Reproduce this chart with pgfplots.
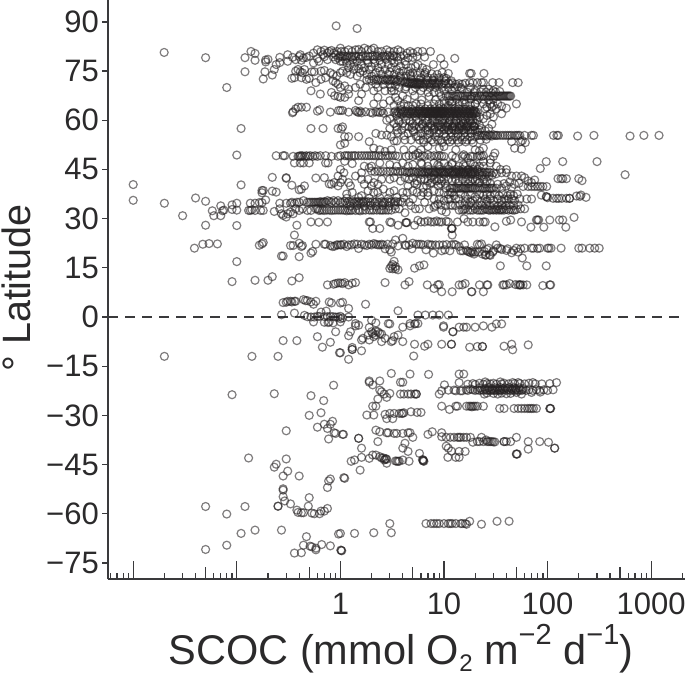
\documentclass[border=0pt]{standalone}
\usepackage{pgfplots}
\pgfplotsset{compat=1.18}
\usepackage{fontspec}
\setmainfont{Liberation Sans}
\definecolor{axisgray}{HTML}{3A3A3C}
\definecolor{txt}{HTML}{2B2A2B}
\definecolor{ring}{HTML}{231F20}
\newcommand{\sups}[1]{\raisebox{20pt}{\fontsize{29}{29}\selectfont #1}}
\newcommand{\subs}[1]{\raisebox{-7pt}{\fontsize{24}{24}\selectfont #1}}
\begin{document}
\begin{tikzpicture}[x=1pt,y=1pt]
\useasboundingbox (0,0) rectangle (685,676);
\begin{axis}[
  at={(108.3pt,96.7pt)}, anchor=south west,
  scale only axis, width=576.7pt, height=579.3pt,
  xmode=log, log basis x=10,
  xmin=0.00575, xmax=2120, ymin=-80, ymax=96.7,
  axis lines*=left, axis line style={-, line width=2.2pt, color=axisgray},
  tick style={color=axisgray, line width=1.3pt},
  tick align=inside,
  major tick length=18pt, minor tick length=6pt,
  xtick={0.01,0.1,1,10,100,1000}, xticklabels={,,1,10,100,1000},
  minor xtick={0.006,0.007,0.008,0.009,0.02,0.03,0.04,0.06,0.07,0.08,0.09,0.2,0.3,0.4,0.6,0.7,0.8,0.9,2,3,4,6,7,8,9,20,30,40,60,70,80,90,200,300,400,600,700,800,900,2000},
  extra x ticks={0.05,0.5,5,50,500},
  extra x tick style={major tick length=12.5pt},
  extra x tick labels={},
  ytick=\empty,
  extra y ticks={-75,-60,-45,-30,-15,0,15,30,45,60,75,90},
  extra y tick labels={−75,−60,−45,−30,−15,0,15,30,45,60,75,90},
  extra y tick style={major tick length=6pt, tick align=outside},
  tick label style={font=\fontsize{31}{33}\selectfont, text=txt},
  xticklabel style={yshift=-10pt},
  yticklabel style={xshift=0pt},
  clip=true,
]
\addplot[only marks, mark=o, mark size=4pt, draw=ring, draw opacity=0.58,
  mark options={line width=1.2pt, draw=ring, draw opacity=0.58, fill opacity=0}] coordinates {
% clipped at the left edge
(0.0057,74.8)(0.0057,54.5)(0.0057,44.2)(0.0057,43.4)(0.0057,40.5)(0.0057,21)(0.0057,21)(0.0057,8.6)(0.0057,-36.7)
% far left, north
(0.0199,80.7)(0.05,79.1)(0.12,79.1)(0.137,81)(0.15,80.4)(0.15,78.3)(0.12,74.8)(0.08,70)(0.18,72.6)(0.19,78.4)(0.19,77.8)(0.2,78.6)(0.187,74.8)(0.23,75.5)(0.22,73.8)(0.24,77)(0.26,77.6)(0.26,79.2)(0.31,80)(0.31,78)
(0.11,57.5)(0.1,49.4)
(0.01,40.4)(0.01,35.6)(0.02,34.7)(0.03,30.9)(0.04,36.3)(0.05,35.3)(0.058,32.4)(0.06,30.9)(0.07,33.9)(0.07,30.9)(0.075,32.6)(0.073,32.4)(0.05,28)(0.09,34.2)(0.09,32.8)(0.1,34.7)(0.1,32.6)(0.1,27.9)(0.11,40.3)
(0.13,32.5)(0.135,32.5)(0.14,32.7)(0.135,34.7)(0.15,34.7)(0.165,34.9)(0.175,34.9)(0.15,32.5)(0.17,32.5)(0.18,32.5)(0.19,35.7)(0.175,38.6)(0.18,38.6)(0.175,37.9)(0.22,38.4)(0.24,38.1)(0.22,42.6)
(0.039,21)(0.047,22.2)(0.054,22.4)(0.065,22.3)(0.165,21.9)(0.175,22.3)(0.18,22.7)(0.27,18.6)(0.28,18.6)(0.1,16.9)(0.09,10.8)(0.15,11.2)(0.2,11.2)(0.22,12.3)(0.34,11)(0.4,12)
% 60-75 north, left of 1
(0.346,79.2)(0.37,78.5)(0.4,79.5)(0.42,78.3)(0.41,80)(0.44,79)(0.47,79.2)(0.5,79.6)(0.55,80.5)(0.6,81.5)(0.65,81)(0.7,81.4)(0.68,80)(0.75,80.5)(0.78,81)(0.82,81.3)(0.86,80.5)(0.9,80)(0.93,81)(0.98,79.5)(1,82)(0.95,79)(0.85,79.3)(0.7,79.4)(0.6,78.8)(0.55,77.5)(0.62,78)(0.75,78.5)(0.9,78.5)(1,78)
(0.34,72.8)(0.36,73)(0.42,73)(0.47,72.5)(0.5,72.8)(0.37,75)(0.39,75.5)(0.41,74.8)(0.43,74.5)(0.45,75.5)(0.53,74.8)(0.56,74.8)(0.65,75)(0.7,75.2)(0.8,74.5)(0.85,74)(0.92,73.5)(1,74.5)(0.58,71.5)(0.65,72.5)(0.72,73)(0.85,72)(0.9,71.5)(0.95,71)(0.52,69)(0.64,68)(0.82,68.5)(0.88,67.5)(0.95,67.3)(1,67)
(0.345,62.3)(0.35,62.6)(0.37,63.5)(0.39,64)(0.42,64)(0.47,64)(0.6,62.8)(0.63,63.2)(0.8,62.5)(0.96,63)(1,63)(0.52,57.5)(0.68,57.5)(0.95,57.5)(1.02,57.4)(1,52.5)(1.1,53)
% 49 band, left of 1
(0.24,49.2)(0.28,49.2)(0.29,49.2)(0.35,49)(0.39,49)(0.4,49)(0.41,49.2)(0.42,49)(0.43,49.2)(0.45,49)(0.47,49.2)(0.49,49)(0.51,49.2)(0.54,49)(0.57,49.2)(0.6,49)(0.64,49.2)(0.72,49.2)(0.82,49)(0.95,49)(1,49.2)(0.36,47)(0.41,47)(0.44,47)(0.5,47)(0.72,47)(0.76,47)(1,45)
(0.3,42.5)(0.3,42.3)(0.34,40.2)(0.4,38.8)(0.42,39)(0.45,40)(0.58,42.4)(0.7,42.5)(0.78,40.6)(0.82,40.5)(0.87,41)(0.95,40)(0.95,43)(1,41)
% 35/33 bands, left of 1
(0.26,34.7)(0.3,34.7)(0.33,34.7)(0.34,35)(0.36,34.7)(0.38,35)(0.4,35)(0.44,35.5)(0.48,35)(0.5,35)(0.52,35)(0.54,35)(0.56,35)(0.58,35)(0.6,35)(0.62,35)(0.64,35.2)(0.66,35)(0.68,35)(0.7,35.2)(0.72,35)(0.75,35.5)(0.78,35.2)(0.82,35)(0.86,35.5)(0.9,35)(0.95,35.5)(1,35)
(0.23,32.2)(0.26,33)(0.27,31.5)(0.28,31)(0.3,30.5)(0.31,31.5)(0.33,32)(0.35,31.5)(0.37,33)(0.4,32.5)(0.43,33)(0.48,32.5)(0.52,32.5)(0.58,33)(0.6,33)(0.62,32.5)(0.64,32.6)(0.67,32.6)(0.7,32.5)(0.74,32.6)(0.78,32.6)(0.82,32.5)(0.86,32.6)(0.9,32.6)(0.95,32.6)(1,32.6)
(0.38,28)(0.52,29)(0.62,28.9)(0.75,29)(0.36,25)(0.4,22.5)
% 22 band, left of 1
(0.33,21.8)(0.35,21.8)(0.42,21.5)(0.43,21.8)(0.58,22.2)(0.7,22.2)(0.72,22.2)(0.8,21.8)(0.84,21.5)(0.88,21.6)(0.92,22)(0.95,22)(1,22)(0.52,19.5)(0.54,20)(0.4,18.4)
(0.75,9.8)(0.86,10)(0.9,10.2)(0.95,10.4)(1,10.4)
% equator patch
(0.28,4.4)(0.3,4.5)(0.31,4.8)(0.33,4.8)(0.34,4.6)(0.36,4.8)(0.37,4.8)(0.44,5.3)(0.46,5)(0.48,5)(0.52,4.6)(0.55,3.9)(0.58,4.8)(0.78,4.6)(0.82,4.3)(1,4.3)(0.27,0.7)(0.36,1.2)(0.45,0.5)(0.48,0.1)(0.52,0)(0.56,0)(0.6,0.2)(0.63,0.2)(0.65,1.5)(0.7,0.1)(0.73,1.8)(0.75,0.1)(0.8,0.2)(0.85,0.1)(0.9,0)(0.95,0)(1,0.2)(0.55,-1.5)(0.7,-1.6)(0.76,-1.7)(0.78,-1.5)(0.85,-1.8)(1,-1.5)
% equator to -15
(0.02,-12)(0.14,-12)(0.25,-12)(0.28,-7.2)(0.38,-7.2)(0.6,-6)(0.67,-9.2)(0.8,-7.7)(0.98,-10.9)(0.9,-4.5)
(1.4,-2.7)(1.25,-4.5)(1.5,-2.5)(1.9,-3.2)(2,-4.5)(3,-2.1)(4.7,-2.7)(5.2,-2.1)(4,-3.1)(9.9,-2.7)(9.9,-3.1)(12.2,-4.5)(12.2,-4.5)(14,-3.1)(15.5,-3.1)(16.5,-3.1)(20,-3.1)(24,-2.7)(29,-3.1)(32,-2.1)(36,-2.1)
(1.2,-5.7)(1.3,-9.3)(1.3,-9.9)(1.6,-7)(1.65,-6.5)(1.85,-5.5)(2.05,-5)(2.3,-4.5)(2.2,-5.5)(2.5,-7.5)(2.5,-5.2)(3.1,-7.5)(3.2,-7.2)(3.6,-5.5)(3.3,-6)(4,-7.5)(5.2,-8.3)(6.5,-8.9)(7,-8.3)(9.5,-8.3)(11.8,-8.3)(11.8,-8.3)(17.7,-9.2)(21,-9)(23.5,-9)(23.5,-9)(38,-8.9)(45,-8.3)(46,-10)(65,-8.5)
(1.6,-10.3)(1.3,-9.9)(1,-10.9)(1.2,-12.9)(5.1,-11.9)(1.9,-7)(2.1,-6)(2.2,-4.3)(2.4,-5)(2.7,-6.5)
% south, -18 to -40, left of 1.1
(0.09,-23.7)(0.23,-23.4)(0.52,-24)(0.69,-25.5)(0.86,-20.8)(0.65,-29.2)(0.5,-30)(0.6,-33.6)(0.7,-32.7)(0.84,-31.8)(0.8,-32.7)(0.75,-34)(0.87,-35.3)(0.9,-35.5)(0.77,-37.2)(1.05,-35.8)(0.3,-34.7)
(0.13,-43)(0.3,-43.3)(0.24,-44.9)(0.23,-45.8)(0.31,-47)(0.28,-48.5)(0.4,-48.5)(0.8,-49.4)(0.77,-50)(0.75,-52)(1.08,-49)(1.1,-49.2)
(0.28,-52.4)(0.28,-52.8)(0.28,-54.8)(0.29,-56.1)(0.25,-57.7)(0.25,-57.7)(0.33,-57)(0.5,-55.1)(0.49,-57.7)(0.38,-58.9)(0.39,-59.6)(0.42,-59.7)(0.44,-59.7)(0.53,-59.8)(0.56,-60)(0.63,-60)(0.65,-59.2)(0.7,-59.2)(0.75,-58.4)
(0.05,-57.8)(0.08,-60.1)(0.12,-57.8)(0.11,-66)(0.15,-65)(0.27,-65)(0.05,-70.9)(0.08,-69.6)(0.47,-67)(0.44,-69.6)(0.51,-69.9)(0.53,-70.1)(0.58,-71)(0.58,-70.5)(0.66,-69.4)(0.8,-69.8)(0.36,-72)(0.42,-71.9)(0.96,-66.2)(1.01,-71.1)(1.03,-71.3)(1.02,-71.2)
% -63 row and bottom
(6.7,-63)(7.5,-63)(8,-63)(8.5,-63)(9,-63)(10,-63)(11,-63)(11.5,-63)(12,-63)(13,-63)(14.5,-63)(15,-63)(16,-63)(16.5,-63.2)(17.7,-62.3)(23,-63.2)(32.5,-62.3)(42.5,-62.3)(3,-63)(3.1,-65.8)(2.1,-65.8)(1.37,-66)(1,-66)
% -17 to -30, 1.8 to 8
(3.1,-17.2)(4.7,-17.4)(7.1,-17.5)(14,-17.4)(15.5,-17.4)(1.9,-19.5)(1.9,-19.9)(2.05,-20.7)(2.4,-19.5)(3.8,-19.9)(4,-19.9)(2.4,-22.3)(2.5,-22.8)(3,-23.3)(2.8,-24.5)(2.3,-25)(2.65,-23.5)
(3.8,-23.5)(4.1,-23.5)(4.5,-23.5)(4.8,-23.5)(5.2,-23.5)(5.4,-23.5)(5.4,-23.5)
(2.2,-27.2)(2.05,-27.2)(1.8,-29.9)(2.1,-29.9)(2.7,-29.7)(2.8,-31)(3.2,-31)(3,-29.4)(3.3,-29.4)(3.7,-29.4)(3.9,-29.4)(4,-29.4)(4.1,-29.2)(4.8,-28.9)(5.5,-29.1)(6,-29.1)
% -20/-23 long band
(9,-23.5)(10.1,-20.7)(9.5,-22.5)(11,-22.3)(13,-22.5)(14,-20)(12.5,-22.3)(14.4,-22.5)(15,-22.5)(16.4,-22.2)(17,-22.4)(18,-22)(19,-22.2)(20,-22.4)(21,-22.2)(22,-22.4)(23,-22.2)(24,-22.4)(25,-22.2)(26,-22.4)(27,-22.2)(28,-22.5)(29,-22.2)(30,-22.4)(31,-22.2)(32,-22.5)(33,-22.2)(34,-22.4)(35,-22.2)(36,-22.4)(38,-22.2)(40,-22.4)(42,-22.2)(44,-22.5)(46,-22.2)(48,-22.4)(50,-22.2)(52,-22.5)(54,-22.2)(56,-22.4)(58,-22.2)(62,-22.4)(66,-22.2)(72,-22.4)(78,-22.2)(84,-22.4)(92,-22.2)(100,-22.4)(113,-22.2)
(17,-20.5)(19,-20.3)(20,-20.6)(22,-20.2)(24,-20.5)(25,-19.8)(26,-20.3)(28,-20.4)(30,-20.2)(32,-20.5)(35,-19.8)(36,-20.4)(38,-20.2)(42,-20.4)(46,-20)(48,-20.3)(52,-20)(54,-20.3)(60,-20.4)(66,-20.2)(72,-20)(76,-20.4)(88,-20.4)(105,-20.3)(122,-20)
(24.5,-23.5)(26,-23.2)(30,-23.3)(33,-23.5)(36,-23.2)(40,-23.4)(56,-23.5)(44,-23.3)(50,-23)(70,-23)(85,-22.9)
(22,-21.6)(25,-21.8)(27,-21.5)(29,-21.9)(31,-21.6)(33,-21.8)(35,-21.5)(37,-21.9)(39,-21.6)(41,-21.8)(43,-21.5)(45,-21.9)(47,-21.6)(49,-21.8)(53,-21.6)(58,-21.8)
% -28 row
(9.5,-27.2)(11.3,-28.2)(13,-27.2)(13.5,-27.2)(16.5,-27.2)(17.5,-27.2)(18.2,-27.2)(18.6,-27.4)(19.2,-27.2)(20,-27.2)(21,-27.2)(24,-27.2)(34.5,-27.9)(38,-27.9)(47.5,-27.9)(52,-27.9)(56,-27.9)(60,-27.9)(64,-27.9)(67,-27.9)(70,-27.9)(73,-27.9)(78,-27.9)(105,-27.9)(106,-27.9)(107,-27.9)
% -35 to -45
(1.07,-35.8)(1.5,-37)(1.5,-37)(2.2,-34.5)(2.4,-35)(2.8,-35.3)(2.9,-35.3)(3.3,-35.5)(3.5,-35.5)(4.5,-35.3)(4.7,-35.3)(4,-35.5)(5,-36.7)(2.3,-38)(7,-35.8)(7.7,-35)(9.5,-35.3)(9.5,-36.5)
(10.5,-36.7)(11.5,-36.7)(12.5,-36.7)(13.5,-36.7)(14,-36.7)(14.5,-36.7)(15.5,-36.7)(16.5,-36.7)(18,-36.7)(23,-36.7)(25.5,-37.5)(29,-38)(19,-38.2)(31,-38.1)(38,-38)(38,-38)(40,-38)(44,-38)(50,-36.7)(65,-38)(84,-38)(102,-38.2)(117,-40)(117,-40)(65,-40.3)(50,-41.8)(50,-41.8)(51,-41.8)(21,-38)(22,-38)(24,-38)(26,-38)(27,-38)(28,-38)(30,-38.1)
(10.5,-39.4)(11,-40)(11.8,-40.9)(14,-41)(16,-41)(10.9,-42.8)(13,-42.8)(14,-42.8)
(1.6,-40)(1.27,-44)(1.37,-43.6)(1.55,-46.7)(1.6,-42.8)(1.9,-43.1)(2.05,-42.1)(2.2,-42.1)(2.4,-42.6)(2.5,-43)(2.6,-43)(2.7,-43.4)(2.8,-43.4)(2.65,-43.6)(2.75,-43.2)(2.8,-44.6)(3.5,-44)(3.7,-44)(4,-43.6)(4.6,-44)(4.5,-41)(4,-40)(4.2,-38.5)(5.8,-41.6)(6.2,-43.5)(6.3,-43.6)(6.3,-43.9)(6.4,-44)(6.3,-43.8)(3.4,-43.9)(3.6,-44)
% equator to -5, right side
(5.6,0.6)(6.6,0.6)(7.8,0.6)(9,0.6)(11,0.6)(3.6,1.9)(1.75,3.9)(1.2,2.6)(1.05,4.5)(1.4,-2)(2,-1)(2.2,-1.8)(2.9,-2)(4.7,-2)(5.3,-2)(5.6,-2)(1,-0.5)(1.2,0)(1.05,-0.3)
% 10 row
(1.05,10.2)(1.1,10.5)(1.2,9.8)(1.3,10.3)(1.4,10.5)(2.7,10.5)(4.2,9.8)(4.6,10.8)(6.9,9.8)(8,8.7)(8.7,9.8)(9,9.9)(9.5,7.7)(12,7.7)(14,9.8)(15,9.8)(16,10.2)(18.4,7.7)(18.6,7.7)(22,9.8)(24,7.7)(26,9.8)(26.5,9.8)(37,9.8)(38,9.8)(40,9.8)(43,10.2)(49,9.9)(52,9.8)(54,9.8)(54,9.8)(55,9.8)(58,9.8)(63,9.8)(90,9.6)(105,9.8)(107,9.8)
(3.1,15.5)(3.2,16)(3.4,15.4)(3.3,17)(3.2,14.7)(3,14.8)(3.4,14.7)(3.6,14.4)(5.2,14.9)(5.8,15.6)(6.4,15.9)(35,15.6)(63,15.6)(97,15.6)
% 22 row
(1.02,22)(1.08,22.2)(1.15,21.5)(1.2,22)(1.28,22)(1.36,22.3)(1.45,22.2)(1.5,20.9)(1.6,22.2)(1.7,22)(1.8,21.8)(1.9,22.2)(2,22)(2.1,22.4)(2.2,22.2)(2.3,22)(2.4,22)(2.5,22.2)(2.6,22)(2.7,20.8)(2.85,22.2)(3,20.5)(3.2,22.3)(3.4,23.5)(3.6,21.7)(3.1,19.8)(4,24)(4.2,22)(4.3,21.8)(4.6,22)(4.9,20.8)(5,22.5)(5.4,22.2)(5.7,22.2)(6,22.2)(6.3,22)(6.7,20.5)(7,22.2)(7.4,22)(7.7,22)(7.9,19.5)(8.3,22)(9,22)(9.5,20.2)(9.8,22)(10.2,20.5)(10.6,22.1)(11.4,20.2)(11.8,22)(12.5,22.2)(13,22)(12,25)(14,21.5)(14.5,20.2)(15.2,20.2)(15.8,22)(16.5,20.3)(17,20)(17.7,19.8)(18.2,19.6)(18.5,20.2)(19,19.8)(19.5,19.2)(20,19.8)(21,22.2)(21.5,19.8)(22,22)(23,22.3)(23.5,19.2)(24.5,20)(25,18.9)(25.5,18.9)(26,20.6)(27,21)(27.5,19)(28,18.8)(29.5,19.8)(30,20.2)(32,22)(33,21)(35,20.9)(36,20.6)(40,20.3)(41,20.8)(45,19.6)(47,20.3)(50,21)(52,19.8)(55,20.8)(57,18)(60,21)(70,21)(73,21)(80,20.9)(84,21)(100,21)(103,21)(108,21)(135,21)(200,21)(215,21)(255,21)(285,21)(315,21)
% 29 row
(1.9,29)(1.95,29)(2.05,27)(2.4,27)(3,29)(3.1,28.8)(3.6,28)(4.3,28.8)(4.3,28.8)(4.4,28.8)(5.2,28)(5.6,29.5)(6,29)(6.5,29)(7,29.3)(7.5,29)(8,29)(8.5,29.3)(9,29)(9.5,29)(10.5,29.2)(11,29)(11.8,27)(11.9,27)(12,27)(13.5,29)(15.6,30)(17,29)(19,29)(22,29)(24,29)(25,29)(31,27.5)(40,29.2)(44,29.6)(56,29)(69,27.4)(78,29.6)(80,29.6)(82,29.6)(92,27.4)(105,29.6)(130,29.6)(140,29.6)(150,27.4)(180,30.4)
% 33 / 35 rows right of 1
(1.05,35)(1.1,35.3)(1.15,34.8)(1.2,35.2)(1.25,35)(1.3,35.3)(1.35,34.8)(1.4,35.2)(1.45,35)(1.5,35.3)(1.55,34.8)(1.6,35.2)(1.65,35)(1.7,35.3)(1.78,35)(1.85,35.2)(1.95,35)(2.05,35.2)(2.15,35)(2.25,35.2)(2.35,35)(2.5,35.2)(2.6,35)(2.7,35)(2.85,35.2)(3,35)(3.1,35.2)(3.3,35)(3.4,35.3)(3.6,35)(3.8,35.2)(4,35)
(1.05,32.6)(1.1,32.6)(1.15,32.4)(1.2,32.6)(1.25,32.5)(1.3,32.6)(1.4,32.5)(1.5,32.6)(1.55,32.4)(1.65,32.6)(1.75,32.6)(1.9,32.6)(2,32.6)(2.1,32.6)(2.25,32.6)(2.4,32.6)(2.5,32.6)(2.6,32.6)(2.75,32.6)(2.9,32.6)(3.1,32.6)
(3.4,33)(3.7,33)(4.2,31.8)(4.8,34)(5.3,33)(5.8,33)(6.5,35)(7.2,33)(8,33.5)(8.7,34.5)(9.5,32.5)(10.5,32)(10,35.5)(11.5,36)(12,34)(13,36)(14,32.6)(15,32.6)(15.5,32.8)(16,33)(17,32.6)(18,35)(18,32.6)(19,32.6)(20,33)(21,32.6)(22,32.6)(23,32.6)(24,32.6)(25,33)(26,32.8)(27,32.6)(28,32.6)(29,32.8)(30,32.6)(31,32.8)(32,32.6)(33,33)(34,32.6)(35,32.8)(36,32.6)(37,33)(38,32.6)(40,32.8)(42,32.6)(44,32.8)(46,32.6)(48,32.6)(50,32.8)(55,33)(60,33)
(5,36)(6,37)(7,37)(8,36)(9,36)(11,36)(14,36)(16,35.2)(17,36)(19,35.5)(21,36)(23,35.2)(25,36)(26,35.5)(28,36)(30,35.5)(33,36)(36,35.5)(38,36)(40,35.5)(42,36)(45,36)(48,35.5)(54,36)(63,36)(70,36)
(2.1,38)(2.3,38)(2.6,39)(3,38)(3.3,38.5)(4,38)(4.4,38)(5,38.5)(5.5,38)(6.3,38)(7,38)(8,38.5)(9,38)(10,38)(11.5,38)(12,38)
(8.2,34)(9.3,34.2)(10.4,33.9)(11.6,34.2)(12.9,34)(14.3,34.3)(15.8,34)(17.4,34.2)(19.2,33.9)(21.1,34.2)(23.2,34)(25.4,34.3)(27.8,34)(30.4,34.2)(33.2,33.9)(36.2,34.2)(39.4,34)(43,34.2)(47,34)(52,34.2)
(1.25,33.8)(1.45,34)(1.7,33.8)(1.95,34)(2.2,33.8)(2.55,34)(2.95,33.8)(3.35,34)(1.15,36.2)(1.5,36.5)(1.9,36.2)(2.4,36.4)(2.9,36.2)(3.5,36.5)(4.1,36.3)(4.6,35)
% 39 row
(6.3,39.5)(8.8,40)(10.5,39.3)(11.5,39.3)(12,39.3)(12.5,39.3)(13,39.3)(13.5,39.3)(14,39.3)(14.5,39.3)(15,39.3)(15.5,39.3)(16,39.3)(16.5,39.3)(17,39.3)(17.5,39.3)(18,39.3)(18.5,39.3)(19,39.3)(20,39.3)(21,39.3)(22,39.3)(23,39.3)(24,39.3)(25,39.3)(26,39.3)(27,39.3)(28,39.3)(29,39.3)(30,39.3)(32,39.3)(36,39.3)(40,40)(45,39.5)(65,39.8)(70,39.8)(75,39.8)(80,39.8)(85,39.8)(90,39.8)(98,39.8)
(87,37.2)(97,36.7)(98,36.7)(100,36.4)(113,36.2)(122,36.2)(128,36.2)(137,36.2)(152,36.2)(163,36.2)(163,36.2)(190,36.9)(210,37.2)(235,36.5)(205,36.8)
(97,47.4)(85,45.3)(140,47.4)(300,47.4)(560,43.4)(126,42.2)(135,42.2)(140,42.2)(152,42.2)(200,42.2)(215,41.6)(50,43)(56,43)(60,42.5)(65,41.5)(70,41)(75,41.8)(45,43)(40,44)(36,44)
% 44 row
(2,44.5)(2.15,44.3)(2.3,44.5)(2.45,44.3)(2.6,44.5)(2.8,44.3)(3,44.5)(3.2,44.3)(3.4,44.5)(3.6,44.3)(3.8,44.5)(4,44.2)(4.2,44.4)(4.4,44.1)(4.6,44.3)(4.8,44)(5,44.4)(5.2,44.1)(5.4,44.3)(5.6,44)(5.8,44.4)(6,44.1)(6.2,44.3)(6.4,44)(6.6,44.4)(6.8,44.1)(7,44.3)(7.2,44)(7.4,44.4)(7.6,44.1)(7.8,44.3)(8,44)(8.2,44.4)(8.4,44.1)(8.6,44.3)(8.8,44)(9,44.4)(9.2,44.1)(9.4,44.3)(9.6,44)(9.8,44.4)(10,44.1)(10.3,44.3)(10.6,44)(10.9,44.4)(11.2,44.1)(11.5,44.3)(11.8,44)(12.1,44.4)(12.4,44.1)(12.7,44.3)(13,44)(13.3,44.4)(13.6,44.1)(14,44.3)(14.4,44)(14.8,44.4)(15.2,44.1)(15.6,44.3)(16,44)(16.5,44.4)(17,44.1)(17.5,44.3)(18,44)(18.5,44.4)(19,44.1)(19.5,44.3)(20,44)(21,44.4)(22,44.1)(23,44.3)(24,44)(25,44.2)(26,44)(27,44.2)(28,44)(30,44)(32,43.7)
(6.1,43.5)(7.1,45)(8.1,43.4)(9.1,45)(10.1,43.5)(11.1,45)(12.1,43.4)(13.1,45)(14.1,43.5)(15.1,45)(16.1,43.4)(17.1,45)(18.1,43.5)(19.1,45)(20.1,43.4)(21.1,45)(22.1,43.5)(23.1,43.2)(25.1,43.3)(27.1,43)(29.1,43.2)(12.6,43.7)(13.9,44.8)(15.4,43.7)(16.9,44.8)(18.4,43.7)
(2.5,42)(3,42)(3.3,42.5)(3.8,41.5)(4.2,42.5)(4.6,42)(5,42.5)(5.5,41.5)(6,42)(6.5,42)(7,41.5)(7.5,42.5)(8,42)(8.5,41.5)(9,42)(9.5,41.5)(10,42)(11,42)(12,41.5)(13,42)(14,41.5)(15,42)(16,41.5)(17,42)(18,41.5)(19,42)(20,41.5)(21,42)(22,41)(24,42)(26,41.5)
(2,46)(2.4,47)(3,46.5)(3.5,46)(4,47)(4.5,46)(5,46.5)(6,47)(7,46)(8,47)(9,46)(10,47)(11,46)(12,47)(14,46)(16,46)(18,47)(20,46)(22,46)(24,46)(28,47)(32,46)(35,45)(40,45)
(1.05,42)(1.2,41)(1.25,40)(1.4,43)(1.6,42)(1.7,40.5)(1.85,42)(1.3,38)(1.6,37)(1.85,38.5)(2,40)(2.1,41)(2.3,40.5)(1.15,37.5)(1.08,44)(1.6,44)(1.7,46)(1.9,45.5)
(11,37.4)(12.5,37)(14.5,37.6)(16,36.8)(18,37.4)(20,36.7)(22,37.5)(24,37)(26,37.4)(28,36.9)(31,37.5)(34,37)(37,37.6)(41,37)(44,37.5)(47,37)(51,37.5)(4.5,40)(5.5,40.5)(6.8,40)(7.6,41)(9.3,40.6)(25,40.6)(28,40.7)(33,40.5)(38,40.7)(43,41.2)(48,40.5)(53,40.8)(58,39.8)
(5.2,40.8)(6.1,46.6)(7.4,40.8)(8.7,46.4)(10.3,40.7)(11.9,46.6)(13.6,40.8)(15.4,46.4)(17.3,40.7)(19.3,46.6)(21.6,40.8)(24,47.4)
% 49 row right of 1
(1.1,49.2)(1.15,49.2)(1.2,49.2)(1.28,49.2)(1.35,49.2)(1.4,49.2)(1.5,49.2)(1.6,49.2)(1.7,49.2)(1.8,49.2)(1.9,49.2)(2,49.2)(2.1,49.2)(2.2,49.2)(2.35,49.2)(2.5,49.2)(2.7,49.2)(2.85,49.2)(3,49.2)(3.2,49.2)(3.4,49.2)(3.6,49)(4.3,49)(4.6,49.2)(5,49)(5.3,49.5)(5.6,50)(5.8,49)(6.2,49.2)(6.5,49)(7,49.5)(7.5,49)(8,49.2)(8.5,49)(9,49.2)(9.5,49)(10,49)(12,49.2)(13,48.5)(15,49)(15.5,49.5)(16,49)(17,48.5)(18,49)(19,49)(21,49)(22,49.2)(23,49)(24,49.2)(30,49)
(1.1,47.5)(1.3,46.8)(1.1,55)(1.05,58)(2.1,51.5)(2.4,51)(2.7,50.5)(3.1,51)(4.1,51)(5,51)(6,51)(7,52)(9,51.5)(10,52)(13,51)(20,51)(22,50.7)(24,51.5)(28,48)(31,50)
% 55 row and 52-60 fill
(1.2,55)(1.5,55)(1.9,53.5)(2.2,56)(2.5,55.5)(2.8,55.5)(3.1,55)(3.5,53.7)(3.3,53.7)(3,57.5)(3.5,58)(3.9,57)(4.2,54)(4.5,56)(4.8,54)(5.1,56.5)(5.4,55)(5.8,54)(6,56)(6.3,54)(6.6,57)(7,54.5)(7.3,56)(7.6,54)(8,57)(8.3,55)(8.7,54)(9,56)(9.4,54)(10,57)(10.4,55)(10.8,54)(11.2,57)(11.6,55)(12,54)(12.5,57)(13,55)(13.5,54)(14,57)(14.5,55)(15,54)(15.6,57)(16,55)(16.7,54)(17.2,57)(18,55)(18.6,54)(19,57)(20,55)(21,55.4)(22,55.4)(23,55.4)(24,55.4)(25,55.4)(26,55.2)(27,55.6)(28,55.4)(29,55.2)(30,55.6)(31,55.4)(32,55.4)(33,55.4)(35,55.4)(37,55.4)(39,55.4)(41,55.4)(43,55.4)(45,55.4)(48,55.4)(50,55.4)(52,55.4)(54,55.4)(60,55.4)(45,53.5)(55,53.5)(57,53.8)(61,53.2)(48,51.5)(56,51.2)
(114,55.4)(123,55.4)(127,55.4)(195,55.2)(280,55.4)(625,55.2)(850,55.4)(1190,55.4)(70,55.4)(73,55.4)
(3.6,56.2)(4.1,55.3)(4.9,57.8)(5.6,55.2)(6.2,58.7)(6.9,55.6)(7.7,58.4)(8.4,56.2)(9.2,58.6)(10.1,55.8)(10.9,58.5)(11.8,56.1)(12.7,58.3)(13.6,55.9)(14.7,58.4)(15.8,56.2)(17,58.5)(18.2,56)(19.6,58.2)(21,56.5)(23,57.5)(25,56.8)(27,57.5)(29,58.8)
(3.7,59.6)(4.2,58.2)(4.7,59.7)(5.2,58.3)(5.7,59.6)(6.3,58.2)(6.9,59.7)(7.5,58.3)(8.1,59.6)(8.8,58.2)(9.6,59.7)(10.4,58.3)(11.2,59.6)(12.1,58.2)(13.1,59.7)(14.2,58.3)(15.3,59.6)(16.6,58.2)(17.9,59.7)(19.3,58.3)(6.4,53.3)(7.9,53.4)(9.6,53.2)(11.4,53.4)(13.8,53.3)(16.2,53.4)(19.1,53.2)(22.4,54)(25.6,54.2)
% 58-60
(3.3,59)(3.6,60)(4,59)(4.3,60)(4.6,58)(5,59)(5.4,60)(5.8,58)(6.2,59)(6.6,60)(7,58)(7.4,59)(7.8,60)(8.2,58)(8.6,59)(9,60)(9.4,58)(9.8,59)(10.2,60)(10.6,58)(11,59)(11.5,60)(12,58)(12.5,59)(13,60)(13.5,58)(14,59)(14.5,60)(15,58)(15.5,59)(16,60)(16.5,58)(17,59)(17.5,60)(18,58)(18.5,59)(19,60)(19.5,58)(20,59)(21,60)(22,58.5)(3.5,57)(5,57)(6,57.5)(7,57)(8,57.5)(9,57)(10,57.5)(11,57)(12,57.5)(13,57)(14,57.5)(15,57)(16,57.5)(18,57)(20,57)(22,57)
% 62 row, the densest
(1.05,63)(1.2,62.5)(1.4,63)(1.45,62.6)(1.5,62.4)(1.55,62.8)(1.6,62.3)(1.75,62.6)(1.95,62.4)(2.05,62.2)(2.2,62.6)(2.3,62.5)(2.4,62.4)(2.5,62.8)(2.6,62.2)(2.8,60)(2.9,62.5)(3,60.5)
(3.3,62.4)(3.4,62.8)(3.5,62)(3.6,62.6)(3.7,62.2)(3.8,62.8)(3.9,62)(4,62.6)(4.1,62.2)(4.2,62.8)(4.3,62)(4.4,62.6)(4.5,62.2)(4.6,62.8)(4.7,62)(4.8,62.6)(4.9,62.2)(5,62.8)(5.1,62)(5.2,62.6)(5.3,62.2)(5.4,62.8)(5.5,62)(5.6,62.6)(5.7,62.2)(5.8,62.8)(5.9,62)(6,62.6)(6.1,62.2)(6.2,62.8)(6.3,62)(6.4,62.6)(6.5,62.2)(6.6,62.8)(6.7,62)(6.8,62.6)(6.9,62.2)(7,62.8)(7.1,62)(7.2,62.6)(7.3,62.2)(7.4,62.8)(7.5,62)(7.6,62.6)(7.7,62.2)(7.8,62.8)(7.9,62)(8,62.6)(8.1,62.2)(8.2,62.8)(8.3,62)(8.4,62.6)(8.5,62.2)(8.6,62.8)(8.7,62)(8.8,62.6)(8.9,62.2)(9,62.8)(9.1,62)(9.2,62.6)(9.3,62.2)(9.4,62.8)(9.5,62)(9.6,62.6)(9.7,62.2)(9.8,62.8)(9.9,62)(10,62.6)(10.2,62.2)(10.4,62.8)(10.6,62)(10.8,62.6)(11,62.2)(11.2,62.8)(11.4,62)(11.6,62.6)(11.8,62.2)(12,62.8)(12.2,62)(12.4,62.6)(12.6,62.2)(12.8,62.8)(13,62)(13.2,62.6)(13.4,62.2)(13.6,62.8)(13.8,62)(14,62.6)(14.3,62.2)(14.6,62.8)(14.9,62)(15.2,62.6)(15.5,62.2)(15.8,62.8)(16.1,62)(16.4,62.6)(16.7,62.2)(17,62.8)(17.3,62)(17.6,62.6)(17.9,62.2)(18.2,62.8)(18.5,62)(18.8,62.6)(19.1,62.2)(19.4,62.8)(19.7,62)(20,62.6)(20.5,62.2)(21,62.5)
(3.5,61.4)(3.9,63.3)(4.4,61.3)(4.9,63.4)(5.3,61.2)(5.8,63.4)(6.2,61.2)(6.6,63.5)(7,61.2)(7.4,63.5)(7.8,61.3)(8.2,63.6)(8.6,61.2)(9,63.6)(9.4,61.2)(9.8,63.5)(10.3,61.3)(10.8,63.6)(11.3,61.2)(11.8,63.5)(12.3,61.2)(12.8,63.6)(13.3,61.3)(13.9,63.5)(14.5,61.2)(15.1,63.5)(15.7,61.2)(16.4,63.4)(17.1,61.3)(17.8,63.3)(18.6,61.3)(19.5,63.2)(20.4,61.4)
(22,61)(24,60.5)(26,61.5)(28,62)(32,63.5)(36,62)(30,61)(26,64)(25,63.5)(29,64)
% 64-67
(3,66)(3.3,64.5)(3.6,66)(2.1,65)(2.3,67)(2.6,65)(3.8,64.5)(4.1,65)(4.5,64.5)(5,64.5)(5.4,65)(6,65)(7,64.5)(8,65)(9,65)(10,65)(11,64.5)(12,65)(14,65)(16,65)(18,64.5)(20,65)(1.6,68)(1.5,66)(1.1,67)(1.2,68)
(10.5,67.4)(11,67.4)(11.5,67.4)(12,67.4)(12.5,67.4)(13,67.4)(13.6,67.4)(14.2,67.4)(14.8,67.4)(15.4,67.4)(16,67.4)(16.6,67.4)(17.2,67.4)(18,67.4)(18.6,67.4)(19.4,67.4)(20,67.4)(21,67.4)(22,67.4)(23,67.4)(24,67.4)(25,67.4)(26,67.4)(27,67.4)(28,67.4)(29,67.4)(30,67.4)(31,67.4)(32,67.4)(33,67.4)(34,67.4)(35,67.4)(36,67.4)(37,67.4)(38,67.4)(39,67.4)(40,67.4)(41,67.4)(42,67.4)(43,67.4)(44,67.4)
(20,65)(24,65)(28,65)(30,64.5)(33,65)(36,64.3)(40,63.7)(50,65)(10,66)(12,65.8)(15,65.5)(3.1,69)(3.4,67)(3.3,69)(4,67.5)
(4.4,66.4)(5.2,67.5)(6.1,66.2)(7.2,67.2)(8.3,66.3)(9.4,67.4)(11.3,66)(13.2,66.4)(15.6,66.2)(18.2,66.5)(21,66.2)(24,66.4)(27,66.2)(30,66.4)(16.8,68.6)(19.6,68.5)(22.5,68.7)(25.5,68.6)(28.5,68.4)(31.5,68.6)(34.5,68.8)
% 72 row
(1.8,72.3)(1.9,72.5)(2,72)(2.1,72.4)(2.2,72.6)(2.3,72.2)(2.4,72.4)(2.5,72.2)(2.6,72.5)(2.7,72.2)(2.8,72.5)(2.9,72.2)(3,72.4)(3.1,72.2)(3.2,72.5)(3.3,72.2)(3.4,72.5)(3.5,71.8)(3.6,72.2)(3.8,71.7)(4,72)(4.2,71.5)(4.3,71.8)(4.4,71.3)(4.5,71.6)(4.6,71.2)(4.7,71.6)(4.8,71.2)(4.9,71.5)(5,71.2)(5.1,71.5)(5.2,71)(5.3,71.4)(5.4,71)(5.5,71.4)(5.6,71)(5.7,71.4)(5.8,71)(5.9,71.4)(6,71)(6.2,71.4)(6.4,71)(6.6,71.4)(6.8,71)(7,71.4)(7.2,71)(7.4,71.4)(7.6,71)(7.8,71.4)(8,71)(8.2,71.4)(8.4,71)(8.6,71.4)(8.8,71)(9,71.4)(9.5,71)(10,71.4)(10.5,71)(11,71.4)(11.5,71)(12,71.4)(13,71)(14,71.2)(15,71)(16,71.3)(17.7,71.5)(19,71.5)(21,71.5)(23,71.5)(24,71.5)(29.5,71.5)(34,71.5)(46,71.5)(52,71.5)
(2.2,71)(2.6,70.9)(3,71)(3.4,70.6)(3.8,73)(4.3,70.2)(4.8,72.6)(5.3,70)(5.8,72.4)(6.3,70)(6.8,72.3)(7.3,70)(7.8,72.3)(8.3,70)(8.9,72.3)(9.6,70)(10.3,72)(11,70)(11.8,72)(12.6,70)(13.5,70.2)(14.5,70)
% 1 to 7, 74-82
(1.02,81)(1.1,81)(1.2,81.5)(1.3,81)(1.4,81.5)(1.5,81.6)(1.6,81)(1.7,82)(1.85,81.5)(2,81.5)(2.1,82)(2.3,81)(2.5,81)(2.8,81.5)(3,81)(3.3,81)(3.6,81.5)(3.8,81)(5,80.5)(4.7,81)(5.6,81)(6.2,81)(7.4,81)(4.4,80.5)
(1.02,79.5)(1.06,79.5)(1.1,79.6)(1.15,79.3)(1.2,79.7)(1.25,79.5)(1.3,79.3)(1.35,79.6)(1.4,79.5)(1.5,79.5)(1.6,79.5)(1.65,79.5)(1.75,79.5)(1.85,79.5)(1.95,79.5)(2.05,79.7)(2.15,79.5)(2.25,79.5)(2.35,79.7)(2.5,79.4)(2.6,79.6)(2.7,79.5)(2.85,79.8)(3,79.5)(3.2,79.8)(3.3,79.5)(3.5,79.3)(3.8,79.5)(4.1,79.8)(4.5,79)(5,79.2)(5.5,79.5)(6.5,79.3)
(1.05,78)(1.15,77.5)(1.25,77)(1.35,76.5)(1.45,78)(1.6,77)(1.7,76)(1.85,77.5)(2,76.3)(2.15,77.5)(2.3,76)(2.5,77)(2.7,75.5)(2.9,77)(3.1,76)(3.3,77.5)(3.5,75.5)(3.8,76.5)(4,75)(4.3,77)(4.5,75)(4.8,76)(5,74.5)(5.3,76.5)(5.6,77)(5.9,74.5)(6.2,76)(6.5,74)(6.8,75.5)(7.9,77)(9.3,78.9)(10,77)(12.7,78.9)(11,74.3)(17.7,74.3)(18.3,74.3)(24.3,74.3)(1.45,88)(0.91,88.8)
(1.05,75)(1.15,74.5)(1.25,74)(1.35,75.5)(1.45,73.5)(1.55,74.5)(1.65,75)(1.8,74)(2,73.5)(2.2,74.5)(2.5,74)(2.9,74)(3.3,74)(3.8,73.5)(4.3,73.5)(4.8,73.5)(6,73)(7,73)(8,73)(9,73)(10,73)(10.5,72.8)(1,70)(1.1,70.5)(1.2,69.5)(1.4,70)(1.55,71)(1.75,70)(2.1,69)(2.3,70)(2.7,69)(3.1,70)(3.7,70)(4.2,69.5)(5,69)(6,69)(7,68.5)(8,68.5)(9,68.5)(10,69)(12,69)(15,69.5)(18,70)(20,69)(24,69.5)(27,69.5)(30,69)
(1.12,78.6)(1.32,78.4)(1.55,78.7)(1.8,78.4)(2.1,78.6)(2.4,78.3)(2.75,78.6)(3.15,78.4)(3.6,78.2)(4.2,78)(1.2,76)(1.5,75.8)(1.9,75.4)(2.4,75)(3,74.8)(3.7,74.6)(4.7,74.2)(5.5,73.8)(6.6,74.6)(7.6,74.2)(8.6,74)(9.6,74.6)
};
\addplot[line width=1.6pt, color=axisgray, dash pattern=on 10pt off 7pt] coordinates {(0.00575,0)(2120,0)};
\draw[color=axisgray, line width=1.3pt] ([yshift=-5pt]axis cs:1,-80) -- (axis cs:1,-80);
\draw[color=axisgray, line width=1.3pt] ([yshift=-5pt]axis cs:10,-80) -- (axis cs:10,-80);
\draw[color=axisgray, line width=1.3pt] ([yshift=-5pt]axis cs:100,-80) -- (axis cs:100,-80);
\draw[color=axisgray, line width=1.3pt] ([yshift=-5pt]axis cs:1000,-80) -- (axis cs:1000,-80);
\end{axis}
\node[anchor=base, inner sep=0pt, font=\fontsize{41.5}{44}\selectfont, text=txt] at (401,11) {SCOC (mmol O\subs{2} m\sups{−2} d\sups{−1})};
\node[anchor=base, inner sep=0pt, rotate=90, font=\fontsize{39.5}{42}\selectfont, text=txt] at (30,388) {° Latitude};
\end{tikzpicture}
\end{document}
